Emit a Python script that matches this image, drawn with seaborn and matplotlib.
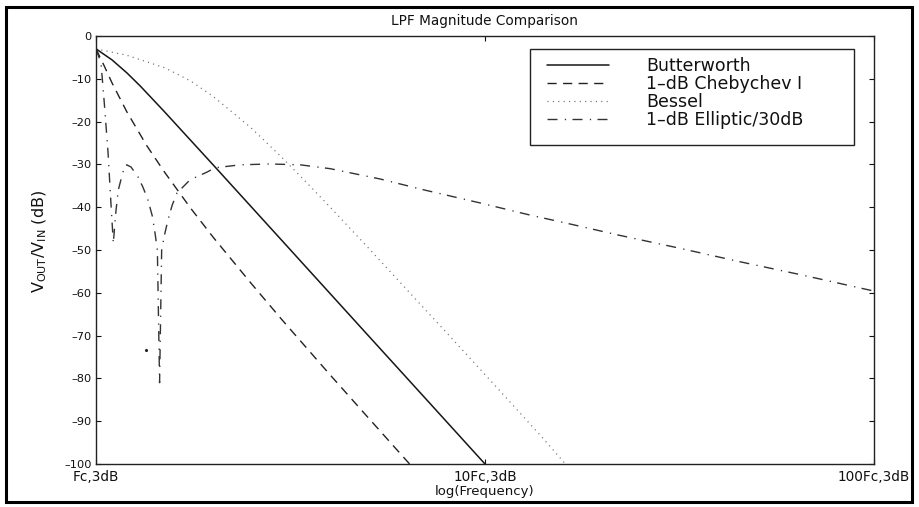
import matplotlib
matplotlib.use("Agg")
import matplotlib.pyplot as plt
import matplotlib.ticker as mticker
from matplotlib.lines import Line2D
from matplotlib.patches import Rectangle
import pandas as pd
import seaborn as sns

# Axis ticks
freq_ticks = [1, 10, 100]
freq_tick_labels = ["Fc,3dB", "10Fc,3dB", "100Fc,3dB"]
db_ticks = [0, -10, -20, -30, -40, -50, -60, -70, -80, -90, -100]
db_tick_labels = ["0", "–10", "–20", "–30", "–40", "–50", "–60", "–70", "–80", "–90", "–100"]

series_names = ["Butterworth", "1–dB Chebychev I", "Bessel", "1–dB Elliptic/30dB"]

# Frequency normalised to Fc,3dB, magnitude in dB
butter_f = [1.0, 1.1, 1.2, 1.3, 1.5, 1.7, 2.0, 3.0, 5.0, 7.0, 10.0]
butter_db = [-3.0, -5.6, -8.6, -11.7, -17.7, -23.1, -30.1, -47.7, -69.9, -84.5, -100.0]

cheby_f = [1.0, 1.05, 1.1, 1.2, 1.35, 1.5, 1.75, 2.0, 2.5, 3.0, 4.0, 5.0, 6.4]
cheby_db = [-3.0, -7.0, -11.0, -17.7, -25.6, -31.8, -40.2, -47.0, -57.7, -66.2, -79.2, -89.1, -100.0]

bessel_f = [1.0, 1.2, 1.5, 1.75, 2.0, 2.5, 3.0, 3.5, 4.0, 5.0, 6.0, 7.0, 8.0, 10.0, 12.0, 14.0, 16.1]
bessel_db = [-3.0, -4.5, -7.4, -10.5, -14.1, -21.4, -28.3, -34.5, -40.0, -49.4, -57.2, -63.8,
             -69.5, -79.1, -87.0, -93.7, -100.0]

ellip_f = [1.0, 1.03, 1.05, 1.074, 1.092, 1.108, 1.125, 1.141, 1.164, 1.18, 1.199, 1.23, 1.282,
           1.32, 1.36, 1.395, 1.418, 1.438, 1.457, 1.475, 1.50, 1.531, 1.57, 1.615, 1.745, 1.929,
           2.023, 2.345, 2.8, 3.35, 4.0, 5.37, 7.0, 9.71, 13.0, 16.5, 22.0, 31.7, 45.0, 65.0, 100.0]
ellip_db = [-3.0, -6.3, -15.5, -27.3, -38.8, -48.4, -41.0, -36.0, -32.9, -31.0, -30.1, -30.6, -32.9,
            -35.3, -38.3, -42.0, -46.0, -50.0, -81.0, -50.0, -46.5, -43.0, -39.5, -36.7, -33.6, -31.8,
            -30.8, -30.1, -29.9, -30.1, -31.0, -33.4, -36.0, -39.0, -41.8, -43.9, -46.5, -49.6, -52.7,
            -55.8, -59.6]

# isolated sample of the elliptic response
ellip_dot_f = [1.344]
ellip_dot_db = [-73.4]

frames = []
for name, f, db in zip(series_names,
                       [butter_f, cheby_f, bessel_f, ellip_f],
                       [butter_db, cheby_db, bessel_db, ellip_db]):
    frames.append(pd.DataFrame({"freq": f, "db": db, "filter": name}))
df = pd.concat(frames, ignore_index=True)

colors = {"Butterworth": "#161616", "1–dB Chebychev I": "#222222",
          "Bessel": "#707070", "1–dB Elliptic/30dB": "#333333"}
widths = {"Butterworth": 1.1, "1–dB Chebychev I": 1.0,
          "Bessel": 0.9, "1–dB Elliptic/30dB": 1.0}
dash_map = {"Butterworth": "", "1–dB Chebychev I": (6.6, 4.6),
            "Bessel": (0.9, 3.4), "1–dB Elliptic/30dB": (7.2, 5.3, 0.9, 4.6)}

sns.set_theme(style="white")
plt.rcParams["font.family"] = ["DejaVu Sans"]
plt.rcParams["mathtext.fontset"] = "dejavusans"
plt.rcParams["text.color"] = "#111111"
plt.rcParams["axes.labelcolor"] = "#111111"
plt.rcParams["xtick.color"] = "#111111"
plt.rcParams["ytick.color"] = "#111111"

W, H = 920, 507
fig = plt.figure(figsize=(W / 100, H / 100), dpi=100, facecolor="white")
ax = fig.add_axes([96 / W, 1 - 464 / H, 778 / W, 428 / H])

sns.lineplot(data=df, x="freq", y="db", hue="filter", style="filter", size="filter",
             hue_order=series_names, style_order=series_names, size_order=series_names,
             palette=colors, dashes=dash_map, sizes=widths,
             sort=False, estimator=None, legend=False, ax=ax)
sns.scatterplot(x=ellip_dot_f, y=ellip_dot_db, s=5, color="#222222", linewidth=0, ax=ax)

ax.set_xscale("log")
ax.set_xlim(1, 100)
ax.set_ylim(-100, 0)
ax.set_xticks(freq_ticks, labels=freq_tick_labels, fontsize=9.8)
ax.set_yticks(db_ticks, labels=db_tick_labels, fontsize=8.2)
ax.xaxis.set_minor_locator(mticker.NullLocator())
ax.tick_params(axis="both", direction="in", length=3.8, width=0.8,
               top=True, right=True, bottom=True, left=True)
ax.tick_params(axis="x", pad=4.5)
ax.tick_params(axis="y", pad=3)
for sp in ax.spines.values():
    sp.set_visible(True)
    sp.set_color("#222222")
    sp.set_linewidth(1.0)

ax.set_title("LPF Magnitude Comparison", fontsize=9.8, pad=8)
ax.set_xlabel("log(Frequency)", fontsize=9.5, labelpad=0.4)
ax.set_ylabel(r"V$_{\mathrm{OUT}}$/V$_{\mathrm{IN}}$ (dB)", fontsize=11.5)
ax.yaxis.set_label_coords(-0.06, 0.52)

# legend drawn with a square frame
handles = [Line2D([], [], color=colors[n], lw=widths[n],
                  linestyle=(0, dash_map[n]) if dash_map[n] else "-")
           for n in series_names]
ax.legend(handles, series_names, loc="upper left", frameon=False,
          bbox_to_anchor=(547 / W, 1 - 57 / H), bbox_transform=fig.transFigure,
          borderpad=0, borderaxespad=0, handlelength=3.6, handletextpad=2.1,
          labelspacing=0.0, fontsize=12.5)
fig.patches.append(Rectangle((530 / W, 1 - 145 / H), 324 / W, 96 / H,
                             transform=fig.transFigure, fill=False,
                             ec="#222222", lw=1.0, zorder=5))

# outer frame
fig.patches.append(Rectangle((6.5 / W, 1 - 502 / H), 905.5 / W, 495.5 / H,
                             transform=fig.transFigure, fill=False,
                             ec="black", lw=2.2))

fig.savefig("out.png", dpi=100, facecolor="white")
